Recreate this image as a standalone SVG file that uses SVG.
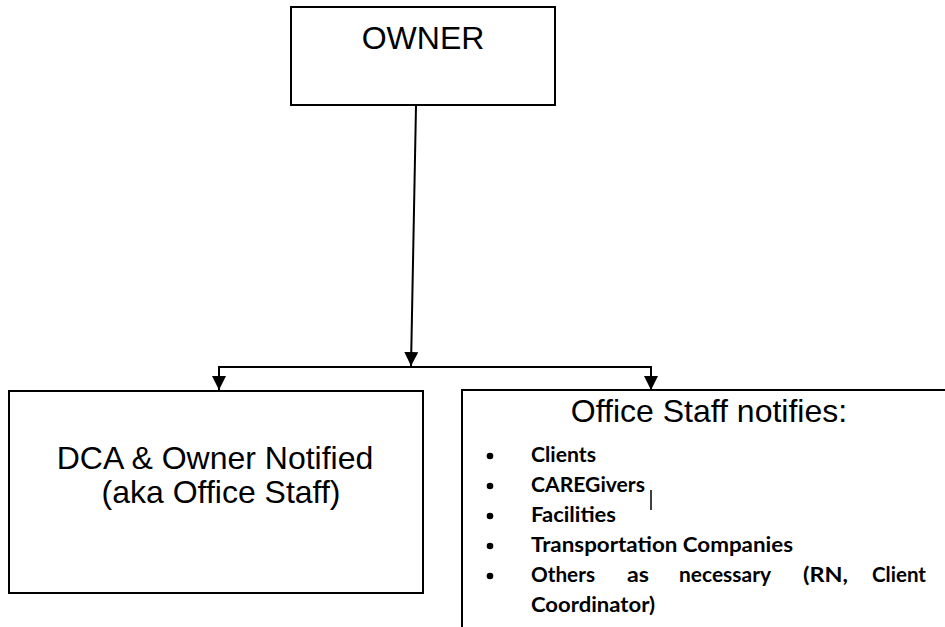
<svg xmlns="http://www.w3.org/2000/svg" width="945" height="627" viewBox="0 0 945 627">
<style>
.box{fill:#fff;stroke:#000;stroke-width:2}
.title{font-family:"Liberation Sans",Arial,sans-serif;font-size:32px;fill:#000}
.item{font-family:Lato,"Open Sans",sans-serif;font-weight:bold;font-size:20px;fill:#000}
.conn{fill:none;stroke:#000;stroke-width:2}
</style>
<defs>
<marker id="ah" markerWidth="14" markerHeight="14" viewBox="0 0 14 14" refX="14" refY="7" orient="auto" markerUnits="userSpaceOnUse">
<path d="M0,0 L14,7 L0,14 Z" fill="#000"/>
</marker>
</defs>
<rect width="945" height="627" fill="#fff"/>
<g id="owner">
<rect class="box" x="291" y="7" width="264" height="98"/>
<text class="title" x="423" y="49" text-anchor="middle">OWNER</text>
</g>
<g id="dca">
<rect class="box" x="9" y="391" width="414" height="202"/>
<text class="title" x="215" y="469" text-anchor="middle">DCA &amp; Owner Notified</text>
<text class="title" x="221" y="503" text-anchor="middle">(aka Office Staff)</text>
</g>
<g id="office-staff">
<rect class="box" x="462" y="390" width="500" height="260"/>
<text class="title" x="709" y="422" text-anchor="middle">Office Staff notifies:</text>
<g fill="#000">
<circle cx="490" cy="456" r="3.3"/>
<circle cx="490" cy="486" r="3.3"/>
<circle cx="490" cy="516" r="3.3"/>
<circle cx="490" cy="546" r="3.3"/>
<circle cx="490" cy="576" r="3.3"/>
</g>
<text class="item" x="531" y="462" textLength="65" lengthAdjust="spacingAndGlyphs">Clients</text>
<text class="item" x="531" y="492" textLength="114" lengthAdjust="spacingAndGlyphs">CAREGivers</text>
<text class="item" x="531" y="522" textLength="85" lengthAdjust="spacingAndGlyphs">Facilities</text>
<text class="item" x="531" y="552" textLength="262" lengthAdjust="spacingAndGlyphs">Transportation Companies</text>
<text class="item" x="531" y="582" textLength="64" lengthAdjust="spacingAndGlyphs">Others</text>
<text class="item" x="627" y="582" textLength="22" lengthAdjust="spacingAndGlyphs">as</text>
<text class="item" x="679" y="582" textLength="92" lengthAdjust="spacingAndGlyphs">necessary</text>
<text class="item" x="803" y="582" textLength="45" lengthAdjust="spacingAndGlyphs">(RN,</text>
<text class="item" x="872" y="582" textLength="54" lengthAdjust="spacingAndGlyphs">Client</text>
<text class="item" x="531" y="612" textLength="124" lengthAdjust="spacingAndGlyphs">Coordinator)</text>
<line x1="651" y1="490" x2="651" y2="510" stroke="#000" stroke-width="1.5"/>
</g>
<g id="connectors">
<path class="conn" d="M416,106 L411,366" marker-end="url(#ah)"/>
<path class="conn" d="M219,390 L219,367 L651,367 L651,390"/>
<path class="conn" d="M219,367 L219,390" marker-end="url(#ah)"/>
<path class="conn" d="M651,367 L651,390" marker-end="url(#ah)"/>
</g>
</svg>
